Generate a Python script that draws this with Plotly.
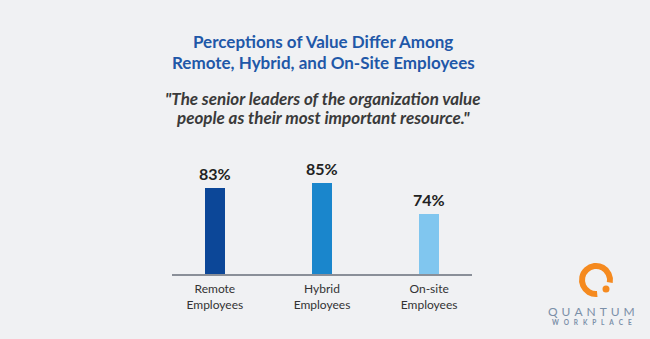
import math
import plotly.graph_objects as go

categories = ["Remote<br>Employees", "Hybrid<br>Employees", "On-site<br>Employees"]
values = [83, 85, 74]
labels = ["83%", "85%", "74%"]
colors = ["#0c4798", "#1a86cc", "#80c6ef"]

title_lines = ["Perceptions of Value Differ Among", "Remote, Hybrid, and On-Site Employees"]
subtitle_lines = ["\"The senior leaders of the organization value", "people as their most important resource.\""]

W, H = 650, 339
BG = "#f0f1f3"

def px(x):
    return x / W

def py(y):
    return 1 - y / H

fig = go.Figure()
fig.add_trace(go.Bar(
    x=categories, y=values, marker_color=colors, width=0.19,
    marker_line_width=0, hoverinfo="skip",
))

annotations = []
for c, v, t in zip(categories, values, labels):
    annotations.append(dict(x=c, y=v, xref="x", yref="y", text=t, showarrow=False,
                            yanchor="bottom", yshift=3,
                            font=dict(family="Lato", size=16, color="#222222", weight="bold")))

title_font = dict(family="Lato", size=17, color="#1f58a8", weight="bold")
sub_font = dict(family="Lato", size=17, color="#3a3a3a", weight="bold", style="italic")
for yy, txt, f in [(42, title_lines[0], title_font), (62, title_lines[1], title_font),
                   (98, subtitle_lines[0], sub_font), (117, subtitle_lines[1], sub_font)]:
    annotations.append(dict(x=px(323), y=py(yy), xref="paper", yref="paper", text=txt,
                            showarrow=False, xanchor="center", yanchor="middle", font=f))

# logo text
annotations.append(dict(x=px(591), y=py(311), xref="paper", yref="paper",
                        text="\u2004".join("QUANTUM"),
                        showarrow=False, xanchor="center", yanchor="middle",
                        font=dict(family="Lato", size=12, color="#7b8fa8")))
annotations.append(dict(x=px(592), y=py(322), xref="paper", yref="paper",
                        text="\u2003".join("WORKPLACE"),
                        showarrow=False, xanchor="center", yanchor="middle",
                        font=dict(family="Lato", size=6.5, color="#7b8fa8", weight="bold")))

# logo ring (open circle) via cubic bezier path in paper coordinates
cx, cy, r = 596, 280, 14
a0, a1 = math.radians(85), math.radians(370)
segs = 8
angles = [a0 + (a1 - a0) * i / segs for i in range(segs + 1)]

def pt(a):
    return cx + r * math.cos(a), cy + r * math.sin(a)

x0, y0 = pt(angles[0])
path = f"M {px(x0):.5f},{py(y0):.5f}"
for i in range(segs):
    s, e = angles[i], angles[i + 1]
    k = 4 / 3 * math.tan((e - s) / 4)
    sx, sy = pt(s)
    ex, ey = pt(e)
    c1x, c1y = sx - k * r * math.sin(s), sy + k * r * math.cos(s)
    c2x, c2y = ex + k * r * math.sin(e), ey - k * r * math.cos(e)
    path += f" C {px(c1x):.5f},{py(c1y):.5f} {px(c2x):.5f},{py(c2y):.5f} {px(ex):.5f},{py(ey):.5f}"

shapes = [
    dict(type="path", xref="paper", yref="paper", path=path,
         line=dict(color="#f58a1f", width=6)),
    dict(type="circle", xref="paper", yref="paper",
         x0=px(602.5), x1=px(609.5), y0=py(292.5), y1=py(285.5),
         fillcolor="#f58a1f", line=dict(width=0)),
]

fig.update_layout(
    width=W, height=H,
    margin=dict(l=0, r=0, t=0, b=0),
    paper_bgcolor=BG, plot_bgcolor=BG,
    showlegend=False,
    annotations=annotations,
    shapes=shapes,
    xaxis=dict(domain=[px(172), px(472)], range=[-0.4, 2.4], showgrid=False,
               showline=True, linecolor="#8a8f98", linewidth=1.5, ticks="",
               ticklabelstandoff=3,
               tickfont=dict(family="Lato", size=12, color="#333333"), fixedrange=True,
               automargin=False),
    yaxis=dict(domain=[py(274), py(150)], range=[53.4, 96.3], visible=False, fixedrange=True),
    bargap=0,
)

fig.write_html("out.html")
